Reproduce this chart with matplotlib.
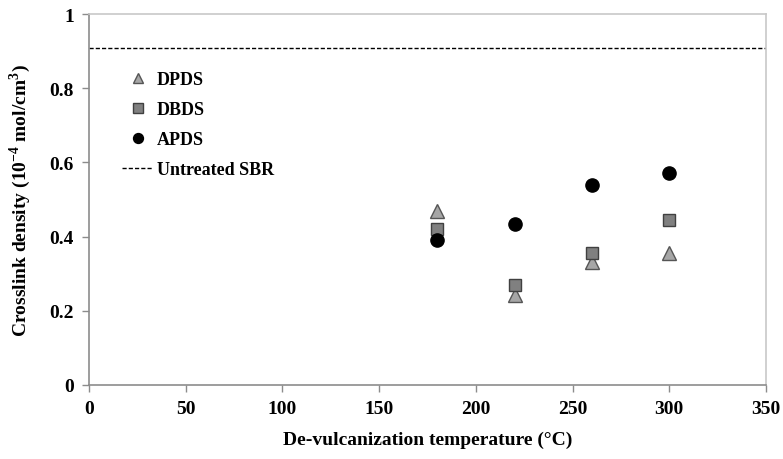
import matplotlib
matplotlib.use('Agg')
import matplotlib.pyplot as plt
from matplotlib.ticker import FuncFormatter

plt.rcParams['font.family'] = ['Liberation Serif', 'DejaVu Serif']
plt.rcParams['font.weight'] = 'bold'

# de-vulcanization temperatures (C)
temps = [180, 220, 260, 300]
# crosslink density (1e-4 mol/cm3)
dpds = [0.47, 0.243, 0.332, 0.357]
dbds = [0.42, 0.27, 0.355, 0.444]
apds = [0.39, 0.435, 0.538, 0.572]
untreated = 0.91

fig = plt.figure(figsize=(7.83, 4.6), dpi=100)
ax = fig.add_axes([0.1137, 0.161, 0.8645, 0.806])

ax.plot(temps, dpds, linestyle='none', marker='^', markersize=9.5,
        markerfacecolor='#a6a6a6', markeredgecolor='#555555', markeredgewidth=1, label='DPDS', zorder=3)
ax.plot(temps, dbds, linestyle='none', marker='s', markersize=9,
        markerfacecolor='#808080', markeredgecolor='#404040', markeredgewidth=1, label='DBDS', zorder=3)
ax.plot(temps, apds, linestyle='none', marker='o', markersize=9.5,
        markerfacecolor='black', markeredgecolor='black', label='APDS', zorder=3)
ax.axhline(untreated, color='black', linestyle=(0, (3, 1.5)), linewidth=1, label='Untreated SBR')

ax.set_xlim(0, 350)
ax.set_ylim(0, 1)
ax.set_xticks(range(0, 351, 50))
ax.set_yticks([0, 0.2, 0.4, 0.6, 0.8, 1.0])
ax.yaxis.set_major_formatter(FuncFormatter(lambda v, p: '%g' % round(v, 1)))

for s in ['left', 'bottom']:
    ax.spines[s].set_color('#8c8c8c')
    ax.spines[s].set_linewidth(1.2)
for s in ['top', 'right']:
    ax.spines[s].set_color('#c8c8c8')
    ax.spines[s].set_linewidth(1.2)

ax.tick_params(direction='out', length=5, width=1, color='#8c8c8c', labelsize=14, pad=6)
for lbl in ax.get_xticklabels() + ax.get_yticklabels():
    lbl.set_fontweight('bold')

ax.set_xlabel('De-vulcanization temperature (°C)', fontsize=14, fontweight='bold', labelpad=10)
ax.set_ylabel('Crosslink density (10$^{\\mathregular{-4}}$ mol/cm$^{\\mathregular{3}}$)',
              fontsize=14, fontweight='bold', labelpad=12)

leg = ax.legend(loc='upper left', bbox_to_anchor=(0.025, 0.89), frameon=False,
                fontsize=13, handlelength=1.7, handletextpad=0.2, labelspacing=0.72,
                markerscale=0.75)
for t in leg.get_texts():
    t.set_fontweight('bold')

fig.savefig('out.png', dpi=100)
